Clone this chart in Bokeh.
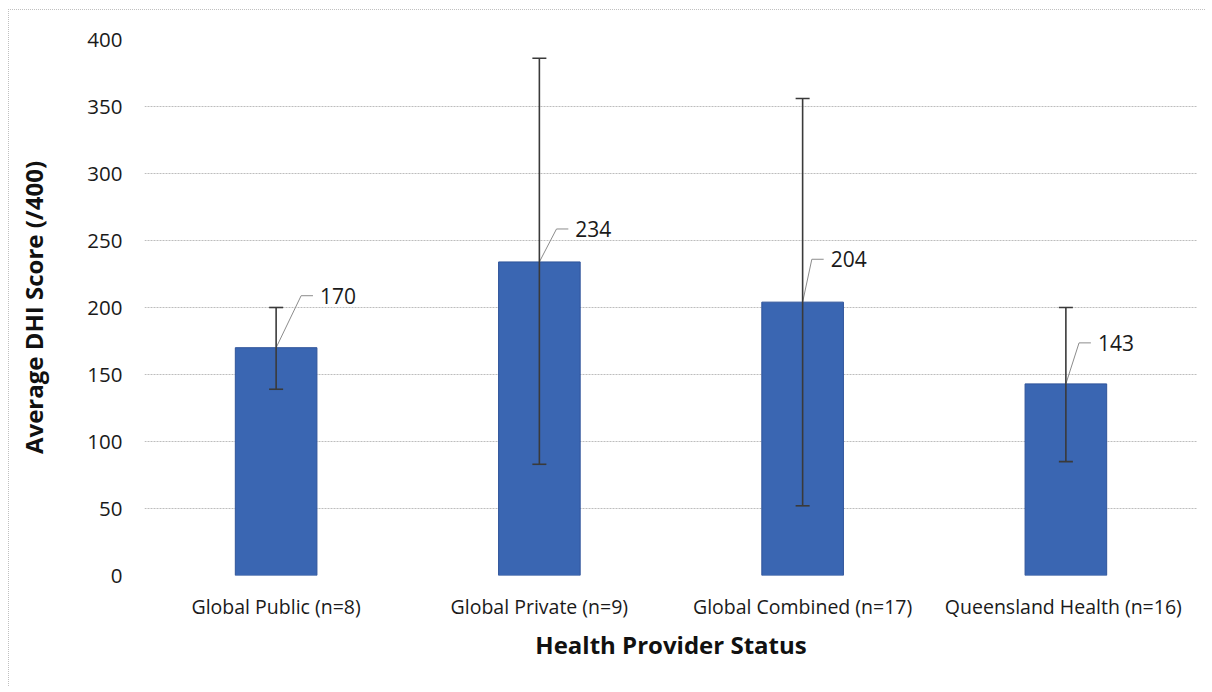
from bokeh.plotting import figure
from bokeh.models import ColumnDataSource, Whisker, FixedTicker, Range1d, TeeHead
from bokeh.embed import file_html
from bokeh.resources import INLINE
from bokeh.core.properties import value

# ---- data ----
categories = ["Global Public (n=8)", "Global Private (n=9)",
              "Global Combined (n=17)", "Queensland Health  (n=16)"]
means = [170, 234, 204, 143]
err_upper = [200, 386, 356, 200]
err_lower = [139, 83, 52, 85]
value_labels = ["170", "234", "204", "143"]
y_ticks = [0, 50, 100, 150, 200, 250, 300, 350, 400]

# label leader geometry (style, in data units)
lead_dx = [0.095, 0.065, 0.035, 0.05]
lead_dy = [38.8, 24.6, 32.0, 30.6]
lead_len = 0.045

FONT = "Open Sans"
xc = [i + 0.5 for i in range(len(categories))]

p = figure(width=1196, height=676, output_backend="svg", toolbar_location=None,
           x_range=Range1d(0, len(categories)), y_range=Range1d(0, 400),
           min_border_left=135, min_border_right=8, min_border_top=29, min_border_bottom=111)
p.frame_width = 1053
p.frame_height = 536
p.styles = {"margin-left": "8px", "margin-top": "9px",
            "border-left": "1px dotted #c0c0c0", "border-top": "1px dotted #c0c0c0"}

p.outline_line_color = None
p.background_fill_color = "white"

src = ColumnDataSource(dict(x=xc, top=means, up=err_upper, lo=err_lower, lab=value_labels))
p.vbar(x="x", top="top", width=0.31, source=src, fill_color="#3A66B2", line_color="#2F549A", line_width=1)

w = Whisker(base="x", upper="up", lower="lo", source=src, line_color="#3a3a3a", line_width=1.6,
            upper_head=TeeHead(size=14, line_color="#3a3a3a", line_width=1.6),
            lower_head=TeeHead(size=14, line_color="#3a3a3a", line_width=1.6),
            level="overlay")
p.add_layout(w)

# leader lines
for i in range(len(categories)):
    x0, y0 = xc[i], means[i]
    x1, y1 = x0 + lead_dx[i], y0 + lead_dy[i]
    x2 = x1 + lead_len
    p.line([x0, x1, x2], [y0, y1, y1], line_color="#8c8c8c", line_width=1)
src2 = ColumnDataSource(dict(
    x=[xc[i] + lead_dx[i] + lead_len for i in range(len(categories))],
    y=[means[i] + lead_dy[i] for i in range(len(categories))],
    lab=value_labels))
p.text(x="x", y="y", text="lab", source=src2, x_offset=7, text_align="left", text_baseline="middle",
       text_font=value(FONT), text_font_size="21px", text_color="#1a1a1a")

# axes
p.xaxis.ticker = FixedTicker(ticks=xc)
p.xaxis.major_label_overrides = {x: c for x, c in zip(xc, categories)}
p.yaxis.ticker = FixedTicker(ticks=y_ticks)
for ax in (p.xaxis[0], p.yaxis[0]):
    ax.axis_line_color = None
    ax.major_tick_line_color = None
    ax.minor_tick_line_color = None
    ax.major_label_text_font = FONT
    ax.major_label_text_color = "#1a1a1a"
    ax.axis_label_text_font = FONT
    ax.axis_label_text_font_style = "bold"
    ax.axis_label_text_font_size = "24px"
    ax.axis_label_text_color = "#111111"
p.xaxis.major_label_text_font_size = "19.5px"
p.yaxis.major_label_text_font_size = "20.5px"
p.yaxis.major_label_standoff = 16
p.xaxis.major_label_standoff = 11
p.xaxis.axis_label = "Health Provider Status"
p.yaxis.axis_label = "Average DHI Score (/400)"
p.xaxis.axis_label_standoff = 5
p.yaxis.axis_label_standoff = 34

p.xgrid.grid_line_color = None
p.ygrid.grid_line_color = "#bdbdbd"
p.ygrid.grid_line_dash = "2 1"
p.ygrid.grid_line_width = 1
p.ygrid.ticker = FixedTicker(ticks=y_ticks)

open("out.html", "w").write(file_html(p, INLINE))
